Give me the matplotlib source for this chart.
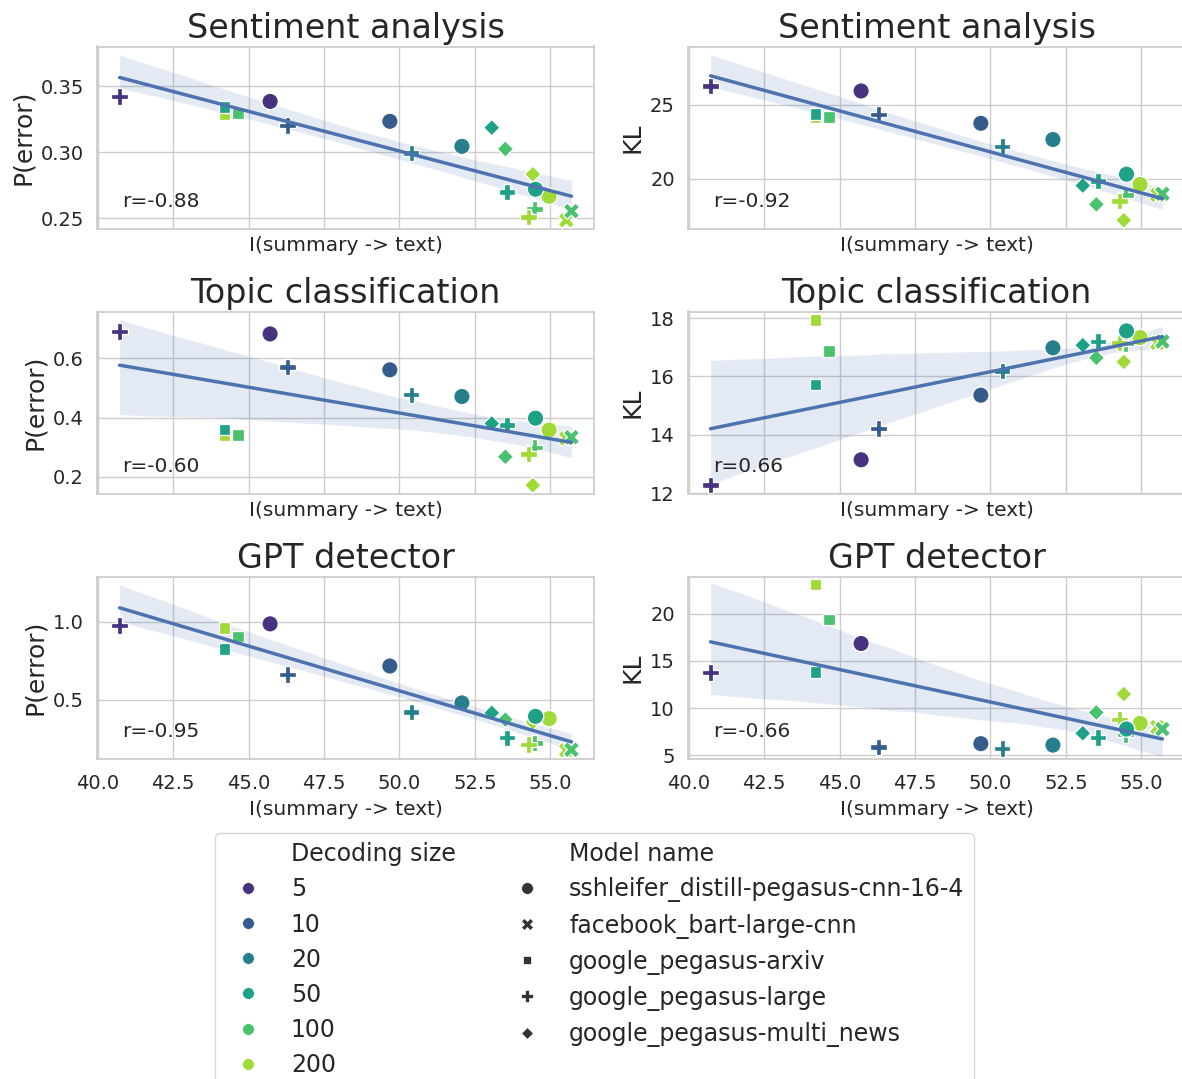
import numpy as np
import pandas as pd
import matplotlib
matplotlib.use("Agg")
import matplotlib.pyplot as plt
from matplotlib.lines import Line2D
import seaborn as sns

# rows ordered so that overlapping markers stack like in the original
model_name = ["google_pegasus-arxiv", "google_pegasus-arxiv", "google_pegasus-arxiv",
              "google_pegasus-large", "google_pegasus-large", "google_pegasus-large",
              "google_pegasus-large", "google_pegasus-large", "google_pegasus-large",
              "google_pegasus-multi_news", "google_pegasus-multi_news", "google_pegasus-multi_news",
              "facebook_bart-large-cnn", "facebook_bart-large-cnn",
              "sshleifer_distill-pegasus-cnn-16-4", "sshleifer_distill-pegasus-cnn-16-4",
              "sshleifer_distill-pegasus-cnn-16-4", "sshleifer_distill-pegasus-cnn-16-4",
              "sshleifer_distill-pegasus-cnn-16-4"]
decoding_size = ["200", "100", "50",
                 "5", "10", "20", "50", "100", "200",
                 "200", "50", "100",
                 "200", "100",
                 "5", "10", "20", "200", "50"]
info = [44.20, 44.64, 44.20,
        40.72, 46.29, 50.39, 53.57, 54.48, 54.28,
        54.42, 53.06, 53.51,
        55.53, 55.70,
        45.71, 49.68, 52.07, 54.96, 54.51]

sent_err = [0.329, 0.3298, 0.3343,
            0.3424, 0.3204, 0.2994, 0.2699, 0.2568, 0.2509,
            0.2833, 0.3187, 0.3025,
            0.2484, 0.2553,
            0.3386, 0.3235, 0.3045, 0.2666, 0.2719]
sent_kl = [24.15, 24.18, 24.37,
           26.29, 24.34, 22.18, 19.83, 18.9, 18.47,
           17.18, 19.53, 18.26,
           18.9, 18.97,
           25.94, 23.75, 22.65, 19.6, 20.3]
topic_err = [0.342, 0.341, 0.360,
             0.690, 0.570, 0.477, 0.375, 0.300, 0.277,
             0.172, 0.380, 0.268,
             0.330, 0.334,
             0.682, 0.561, 0.471, 0.358, 0.398]
topic_kl = [17.94, 16.88, 15.72,
            12.28, 14.22, 16.18, 17.19, 17.12, 17.15,
            16.5, 17.07, 16.64,
            17.15, 17.2,
            13.15, 15.36, 16.98, 17.33, 17.56]
gpt_err = [0.958, 0.904, 0.826,
           0.975, 0.662, 0.421, 0.256, 0.222, 0.213,
           0.355, 0.415, 0.372,
           0.176, 0.179,
           0.985, 0.715, 0.479, 0.3785, 0.393]
gpt_kl = [23.1, 19.4, 13.84,
          13.8, 5.9, 5.75, 6.9, 7.2, 8.8,
          11.5, 7.35, 9.55,
          8.0, 7.8,
          16.85, 6.25, 6.1, 8.4, 7.8]

hue_order = ["5", "10", "20", "50", "100", "200"]
style_order = ["sshleifer_distill-pegasus-cnn-16-4", "facebook_bart-large-cnn",
               "google_pegasus-arxiv", "google_pegasus-large", "google_pegasus-multi_news"]
titles = ["Sentiment analysis", "Topic classification", "GPT detector"]

df = pd.DataFrame({"model": model_name, "dec": decoding_size, "info": info,
                   "sent_err": sent_err, "sent_kl": sent_kl,
                   "topic_err": topic_err, "topic_kl": topic_kl,
                   "gpt_err": gpt_err, "gpt_kl": gpt_kl})

sns.set_theme(style="whitegrid")
palette = sns.color_palette("viridis", len(hue_order))
markers = {"sshleifer_distill-pegasus-cnn-16-4": "o", "facebook_bart-large-cnn": "X",
           "google_pegasus-arxiv": (4, 0, 45), "google_pegasus-large": "P",
           "google_pegasus-multi_news": (4, 0, 0)}

W, H = 1182.0, 1079.0
fig = plt.figure(figsize=(W / 100, H / 100), dpi=100)
lefts = [97, 688]
tops = [46.5, 311.5, 576.5]
aw, ah = 497, 182

cols = [["sent_err", "sent_kl"], ["topic_err", "topic_kl"], ["gpt_err", "gpt_kl"]]
ylabels = ["P(error)", "KL"]

for i in range(3):
    for j in range(2):
        ax = fig.add_axes([lefts[j] / W, 1 - (tops[i] + ah) / H, aw / W, ah / H])
        ycol = cols[i][j]
        sns.scatterplot(data=df, x="info", y=ycol, hue="dec", hue_order=hue_order,
                        palette=palette, style="model", style_order=style_order,
                        markers=markers, s=140, legend=False, ax=ax, zorder=3)
        sns.regplot(data=df, x="info", y=ycol, scatter=False, ax=ax, seed=0,
                    color="#4c72b0", line_kws={"lw": 2.5, "zorder": 4})
        r = np.corrcoef(df["info"], df[ycol])[0, 1]
        ax.text(0.05, 0.12, "r=%.2f" % r, transform=ax.transAxes, fontsize=14.5,
                color=".15", zorder=5)
        ax.set_title(titles[i], fontsize=24)
        ax.set_xlabel("I(summary -> text)", fontsize=14.5, labelpad=5.5)
        ax.set_ylabel(ylabels[j], fontsize=18)
        ax.tick_params(labelsize=14)
        ax.tick_params(axis="x", pad=5)
        if i < 2:
            ax.tick_params(labelbottom=False)
        if ycol == "topic_kl":
            ax.set_yticks([12, 14, 16, 18])
        if ycol == "gpt_kl":
            ax.set_yticks([5, 10, 15, 20])
            ax.set_ylim(4.68, 23.94)

handles = [Line2D([], [], linestyle="", marker="")]
labels = ["Decoding size"]
for k, h in enumerate(hue_order):
    handles.append(Line2D([], [], linestyle="", marker="o", markersize=8.5,
                          color=palette[k], markeredgecolor="w", markeredgewidth=0.5))
    labels.append(h)
handles.append(Line2D([], [], linestyle="", marker=""))
labels.append("Model name")
for m in style_order:
    handles.append(Line2D([], [], linestyle="", marker=markers[m], markersize=8.5,
                          color=".2", markeredgecolor="w", markeredgewidth=0.5))
    labels.append(m)

fig.legend(handles, labels, ncol=2, loc="upper center", bbox_to_anchor=(0.503, 0.239),
           fontsize=17, labelspacing=0.47, frameon=True)

fig.savefig("out.png", dpi=100)
